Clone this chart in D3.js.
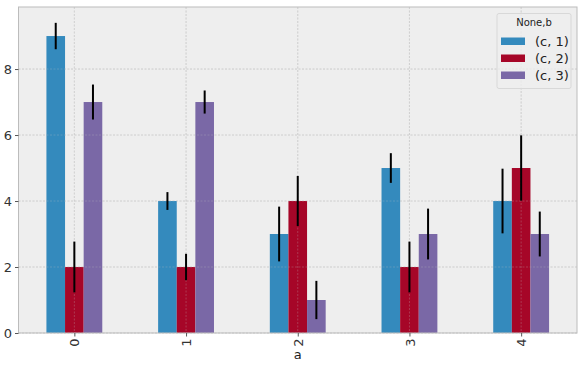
<!DOCTYPE html>
<html><head><meta charset="utf-8">
<script src="https://cdn.jsdelivr.net/npm/d3@7"></script>
<style>body{margin:0;background:#fff}svg{display:block}text{font-family:"DejaVu Sans",sans-serif}</style>
</head><body><svg id="c" width="583" height="369"></svg>
<script>
const categories = ["0","1","2","3","4"];
const seriesNames = ["(c, 1)","(c, 2)","(c, 3)"];
const c1 = [9,4,3,5,4];
const c2 = [2,2,4,2,5];
const c3 = [7,7,1,3,3];
const e1 = [0.4,0.27,0.83,0.45,0.98];
const e2 = [0.77,0.4,0.76,0.77,0.99];
const e3 = [0.53,0.35,0.58,0.77,0.68];
const yTicks = [0,2,4,6,8];
const colors = ["#348ABD","#A60628","#7A68A6"];
const legendTitle = "None,b";
const xLabel = "a";

const values=[c1,c2,c3], errs=[e1,e2,e3];
const svg=d3.select("#c");
const L=18.5,R=577,T=7,B=333;
const x=d3.scaleLinear().domain([-0.5,4.5]).range([L,R]);
const y=d3.scaleLinear().domain([0,9.88]).range([B,T]);
svg.append("rect").attr("x",L).attr("y",T).attr("width",R-L).attr("height",B-T).attr("fill","#eeeeee");
function grid(op){
  const g=svg.append("g").attr("stroke","#c4c4c4").attr("stroke-opacity",op).attr("stroke-width",0.6).attr("stroke-dasharray","2,1.5");
  yTicks.forEach(t=>g.append("line").attr("x1",L).attr("x2",R).attr("y1",y(t)).attr("y2",y(t)));
  categories.forEach((c,i)=>g.append("line").attr("x1",x(i)).attr("x2",x(i)).attr("y1",T).attr("y2",B));
}
grid(1);
const bw=0.5/3;
values.forEach((vals,s)=>{
  svg.append("g").selectAll("rect").data(vals).join("rect")
    .attr("x",(d,i)=>x(i-0.25+s*bw)).attr("width",x(bw)-x(0))
    .attr("y",d=>y(d)).attr("height",d=>y(0)-y(d)).attr("fill",colors[s]);
});
grid(0.45);
values.forEach((vals,s)=>{
  svg.append("g").selectAll("line").data(vals).join("line")
    .attr("x1",(d,i)=>x(i-0.25+s*bw+bw/2)).attr("x2",(d,i)=>x(i-0.25+s*bw+bw/2))
    .attr("y1",(d,i)=>y(d+errs[s][i])).attr("y2",(d,i)=>y(d-errs[s][i]))
    .attr("stroke","#000").attr("stroke-width",2);
});
svg.append("rect").attr("x",L).attr("y",T).attr("width",R-L).attr("height",B-T).attr("fill","none").attr("stroke","#bcbcbc").attr("stroke-width",1);
const ya=svg.append("g").attr("transform",`translate(${L},0)`).call(d3.axisLeft(y).tickValues(yTicks).tickSize(3.5).tickPadding(3));
ya.select(".domain").remove();
ya.selectAll("line").attr("stroke","#555");
ya.selectAll("text").attr("font-size",13).attr("fill","#333").attr("font-family","DejaVu Sans");
const xa=svg.append("g").attr("transform",`translate(0,${B})`).call(d3.axisBottom(x).tickValues(categories.map((c,i)=>i)).tickFormat(i=>categories[i]).tickSize(3.5));
xa.select(".domain").remove();
xa.selectAll("line").attr("stroke","#555");
xa.selectAll("text").attr("font-size",13).attr("fill","#333").attr("font-family","DejaVu Sans")
  .attr("transform","rotate(-90)").attr("text-anchor","end").attr("dy","0.35em").attr("x",-5.5).attr("y",0);
svg.append("text").attr("x",(L+R)/2).attr("y",359).attr("text-anchor","middle").attr("font-size",13).attr("fill","#222").text(xLabel);
const lg=svg.append("g");
lg.append("rect").attr("x",497).attr("y",13.5).attr("width",74).attr("height",75).attr("rx",2).attr("fill","#eeeeee").attr("fill-opacity",0.8).attr("stroke","#d8d8d8").attr("stroke-width",1);
lg.append("text").attr("x",534).attr("y",26).attr("text-anchor","middle").attr("font-size",10).attr("fill","#222").text(legendTitle);
seriesNames.forEach((n,s)=>{
  const yy=41+s*17;
  lg.append("rect").attr("x",501).attr("y",yy-3.5).attr("width",24).attr("height",7.5).attr("fill",colors[s]);
  lg.append("text").attr("x",535).attr("y",yy+4.5).attr("font-size",13).attr("fill","#222").text(n);
});
</script></body></html>
